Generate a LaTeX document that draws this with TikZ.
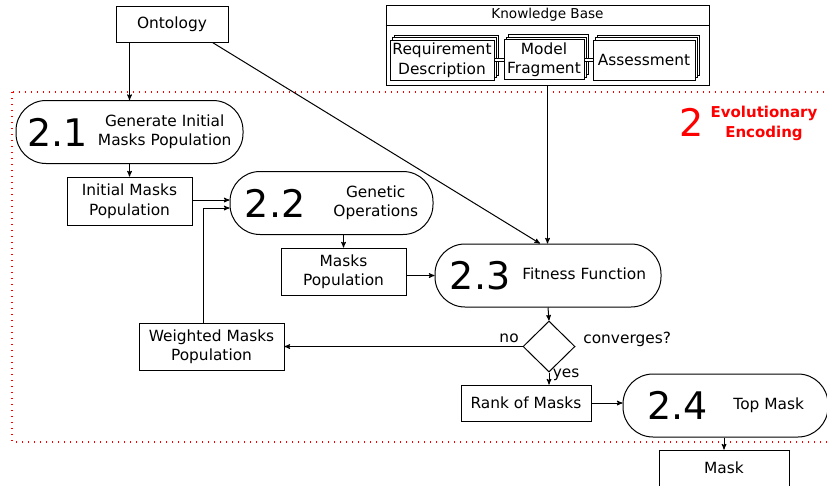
\documentclass[tikz,border=0pt]{standalone}
\usepackage{fontspec}
\setmainfont{DejaVu Sans}
\usepackage{tikz}
\usetikzlibrary{arrows,shapes.geometric,shadows}

\newcommand{\stepnum}[1]{$\vcenter{\hbox{\fontsize{38}{38}\selectfont #1}}$}

\begin{document}
\begin{tikzpicture}[x=1pt, y=-1pt, ->, >=stealth', line width=1pt, font=\fontsize{15.4}{19.5}\selectfont]

  \tikzstyle{data}=[draw, rectangle, align=center, inner sep=0pt]
  \tikzstyle{proc}=[draw, rectangle, rounded corners=30pt, minimum height=63pt, inner sep=0pt]
  \tikzstyle{doc}=[data, fill=white, copy shadow={shadow xshift=4pt, shadow yshift=5pt}, copy shadow={shadow xshift=2pt, shadow yshift=2.5pt}]
  \tikzstyle{evo}=[-, red, line width=1.4pt, dash pattern=on 1.4pt off 4.6pt]

  \useasboundingbox (0,0) rectangle (827,485);

  % sources
  \node[data, minimum width=112pt, minimum height=36pt] (onto) at (172,24) {Ontology};
  \node[data, minimum width=323pt, minimum height=80pt] (kb) at (547.5,45) {};
  \node[anchor=north, minimum height=20pt, inner sep=0pt, font=\fontsize{13.6}{13.6}\selectfont] (kbt) at (kb.north) {Knowledge Base};
  \draw[-] (kb.west |- kbt.south) -- (kb.east |- kbt.south);
  \node[doc, minimum width=104pt, minimum height=40pt] (req)  at (442,60) {Requirement\\Description};
  \node[doc, minimum width=80pt,  minimum height=40pt] (frag) at (544,59.5) {Model\\Fragment};
  \node[doc, minimum width=102pt, minimum height=40pt] (asm)  at (644,60) {Assessment};
  \draw[-, double, double distance=2pt] (req.east) -- (req.east -| frag.west);
  \draw[-, double, double distance=2pt] (frag.east) -- (frag.east -| asm.west);

  % evolutionary encoding
  \draw[evo] (12,92) rectangle (845,442);
  \node[red] (n2) at (691.5,122.5) {\stepnum{2}};
  \node[red, align=center, font=\bfseries\fontsize{15}{20}\selectfont] (evo) at (764,123) {Evolutionary\\Encoding};

  \node[proc, minimum width=227pt] (p21) at (129.5,132) {\stepnum{2.1}\hspace{10pt}\begin{tabular}{@{}c@{}}Generate Initial\\Masks Population\end{tabular}};
  \node[data, minimum width=125pt, minimum height=48pt] (init) at (129.5,201) {Initial Masks\\Population};
  \node[proc, minimum width=203pt] (p22) at (331.5,203) {\stepnum{2.2}\hspace{28pt}\begin{tabular}{@{}c@{}}Genetic\\Operations\end{tabular}\hspace{8pt}};
  \node[data, minimum width=125pt, minimum height=47pt] (mpop) at (343.5,271.5) {Masks\\Population};
  \node[proc, minimum width=226pt] (p23) at (548,275.5) {\stepnum{2.3}\hspace{12pt}Fitness Function\hspace{4pt}};
  \node[diamond, draw, minimum width=52pt, minimum height=51pt, inner sep=0pt] (conv) at (549,346.5) {};
  \node[anchor=west] (cq) at ([xshift=4pt, yshift=7pt]conv.east) {converges?};
  \node[data, minimum width=145pt, minimum height=47pt] (wpop) at (211.5,346.5) {Weighted Masks\\Population};
  \node[data, minimum width=130pt, minimum height=36pt] (rank) at (526,403) {Rank of Masks};
  \node[proc, minimum width=205pt] (p24) at (725.5,405.5) {\stepnum{2.4}\hspace{26pt}Top Mask\hspace{20pt}};
  \node[data, minimum width=130pt, minimum height=36pt] (mask) at (724,468) {Mask};

  % connectors
  \draw (onto.south -| p21.north) -- (p21.north);
  \draw ([xshift=-16pt]onto.south east) -- ([xshift=-8pt]p23.north);
  \draw (kb.south) -- (kb.south |- p23.north);
  \draw (p21.south -| init.north) -- (init.north);
  \draw ([yshift=1pt]init.east) -- ([yshift=1pt]init.east -| p22.west);
  \draw ([xshift=-8.5pt]wpop.north) |- ([yshift=-5pt]p22.west);
  \draw (p22.south -| mpop.north) -- (mpop.north);
  \draw (p23.west -| mpop.east) -- (p23.west);
  \draw (p23.south) -- (conv.north);
  \draw (conv.west) -- node[pos=0, above left] {no} (conv.west -| wpop.east);
  \draw (conv.south) -- node[pos=0.15, right] {yes} (conv.south |- rank.north);
  \draw (rank.east) -- (rank.east -| p24.west);
  \draw (p24.south -| mask.north) -- (mask.north);
\end{tikzpicture}
\end{document}
